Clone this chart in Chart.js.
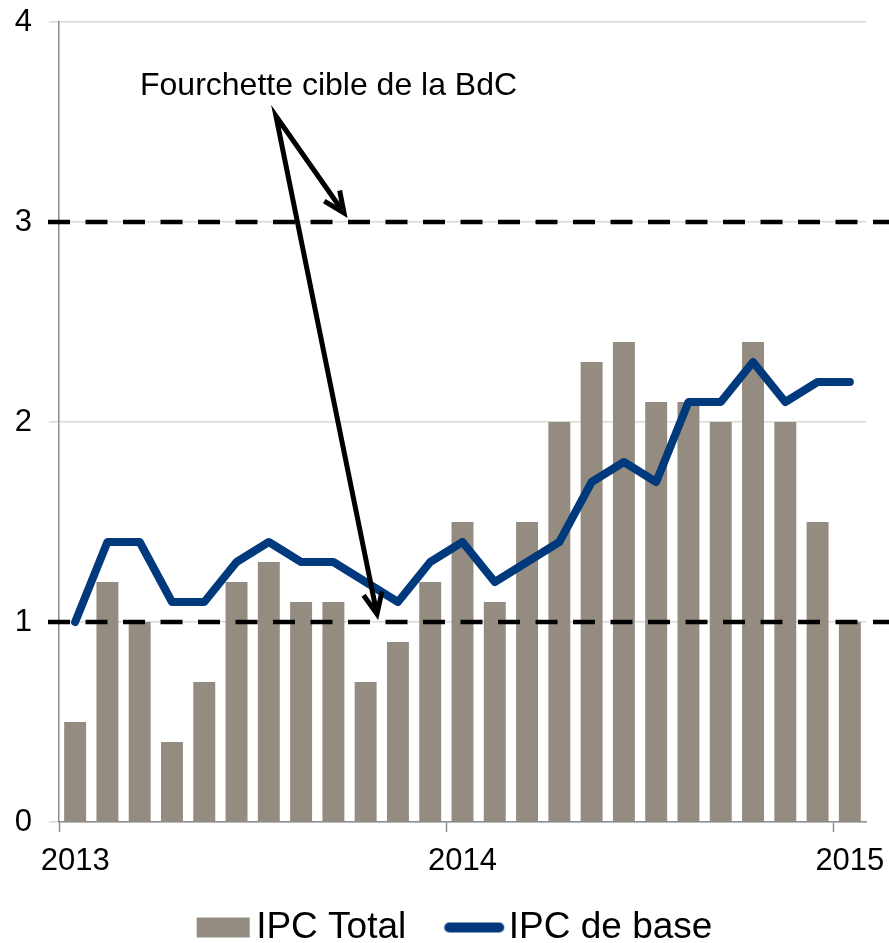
<!DOCTYPE html>
<html>
<head>
<meta charset="utf-8">
<script src="https://cdn.jsdelivr.net/npm/chart.js@4.4.1/dist/chart.umd.min.js"></script>
<style>
  html, body { margin: 0; padding: 0; background: #ffffff; }
</style>
</head>
<body>
<canvas id="chart" width="889" height="943"></canvas>
<script>
// --- Données ---
const mois = ['2013-01', '2013-02', '2013-03', '2013-04', '2013-05', '2013-06', '2013-07', '2013-08', '2013-09', '2013-10', '2013-11', '2013-12',
              '2014-01', '2014-02', '2014-03', '2014-04', '2014-05', '2014-06', '2014-07', '2014-08', '2014-09', '2014-10', '2014-11', '2014-12',
              '2015-01'];
const ipcTotal = [0.5, 1.2, 1.0, 0.4, 0.7, 1.2, 1.3, 1.1, 1.1, 0.7, 0.9, 1.2, 1.5, 1.1, 1.5, 2.0, 2.3, 2.4, 2.1, 2.1, 2.0, 2.4, 2.0, 1.5, 1.0];
const ipcBase  = [1.0, 1.4, 1.4, 1.1, 1.1, 1.3, 1.4, 1.3, 1.3, 1.2, 1.1, 1.3, 1.4, 1.2, 1.3, 1.4, 1.7, 1.8, 1.7, 2.1, 2.1, 2.3, 2.1, 2.2, 2.2];
const yTicks = [0, 1, 2, 3, 4];
const cible = [1, 3];
const noteTexte = 'Fourchette cible de la BdC';

const police = '"Liberation Sans", Arial, sans-serif';
const GRIS_BARRE = '#958C81';
const BLEU = '#003A7D';
Chart.defaults.font.family = police;

const estJanvier = i => i !== undefined && mois[i] && mois[i].endsWith('-01');

// --- Icônes de légende (décalées pour coller au texte) ---
function icone(dessin) {
    const c = document.createElement('canvas');
    c.width = 116; c.height = 24;
    dessin(c.getContext('2d'));
    return c;
}
const icones = [
    icone(g => { g.fillStyle = GRIS_BARRE; g.fillRect(59, 2, 53, 20); }),
    icone(g => {
        g.strokeStyle = BLEU; g.lineWidth = 10; g.lineCap = 'round';
        g.beginPath(); g.moveTo(59, 12); g.lineTo(109, 12); g.stroke();
    })
];

function fleche(ctx, pts) {
    // pts: départ commun puis les deux pointes
    const [d, p1, p2] = pts;
    ctx.beginPath();
    ctx.moveTo(p1[0], p1[1]); ctx.lineTo(d[0], d[1]); ctx.lineTo(p2[0], p2[1]);
    ctx.stroke();
    [p1, p2].forEach(p => {
        const a = Math.atan2(p[1] - d[1], p[0] - d[0]), L = 23, s = 0.42;
        ctx.beginPath();
        ctx.moveTo(p[0] - L * Math.cos(a - s), p[1] - L * Math.sin(a - s));
        ctx.lineTo(p[0], p[1]);
        ctx.lineTo(p[0] - L * Math.cos(a + s), p[1] - L * Math.sin(a + s));
        ctx.stroke();
    });
}

// --- Lignes cibles, flèches et texte ---
const annotations = {
    id: 'annotations',
    afterDatasetDraw(chart, args) {
        if (args.index !== 0) return;
        const { ctx, scales: { y }, chartArea } = chart;
        ctx.save();
        ctx.strokeStyle = '#000';
        ctx.lineWidth = 4.5;
        ctx.setLineDash([22, 15.5]);
        cible.forEach(v => {
            const py = Math.round(y.getPixelForValue(v));
            ctx.beginPath();
            ctx.moveTo(chartArea.left - 11, py);
            ctx.lineTo(chart.width, py);
            ctx.stroke();
        });
        ctx.restore();
    },
    afterDatasetsDraw(chart) {
        const { ctx, scales: { x, y } } = chart;
        const px = (i, v) => [x.getPixelForValue(i), y.getPixelForValue(v)];
        ctx.save();
        ctx.strokeStyle = '#000';
        ctx.lineWidth = 5;
        ctx.lineJoin = 'miter';
        fleche(ctx, [px(6.22, 3.53), px(8.33, 3.045), px(9.35, 1.04)]);
        ctx.fillStyle = '#000';
        ctx.font = '32px ' + police;
        ctx.textAlign = 'left';
        ctx.textBaseline = 'middle';
        const [tx, ty] = px(2.01, 3.68);
        ctx.fillText(noteTexte, tx, ty);
        ctx.restore();
    }
};

new Chart(document.getElementById('chart'), {
    type: 'bar',
    data: {
        labels: mois,
        datasets: [{
            label: 'IPC Total',
            data: ipcTotal,
            backgroundColor: GRIS_BARRE,
            borderWidth: 0,
            categoryPercentage: 0.68,
            barPercentage: 1,
            order: 1
        }, {
            type: 'line',
            label: 'IPC de base',
            data: ipcBase,
            borderColor: BLEU,
            backgroundColor: BLEU,
            borderWidth: 8,
            borderCapStyle: 'round',
            borderJoinStyle: 'round',
            pointRadius: 0,
            tension: 0,
            order: 0
        }]
    },
    options: {
        responsive: false,
        animation: false,
        layout: { padding: { top: 22, right: 23, left: 0, bottom: -13 } },
        scales: {
            x: {
                offset: true,
                grid: {
                    offset: true,
                    drawOnChartArea: false,
                    tickLength: 10,
                    tickWidth: 1.5,
                    tickColor: c => estJanvier(c.index) ? '#8c8c8c' : 'rgba(0,0,0,0)'
                },
                border: { color: '#8c8c8c', width: 1.5 },
                ticks: {
                    autoSkip: false,
                    maxRotation: 0,
                    padding: 11,
                    color: '#000',
                    font: { size: 31 },
                    callback: (v, i) => estJanvier(i) ? mois[i].slice(0, 4) : ''
                },
                afterFit: s => { s.paddingLeft = 0; s.paddingRight = 0; s.height = 87; }
            },
            y: {
                min: 0,
                max: 4,
                afterBuildTicks: s => { s.ticks = yTicks.map(v => ({ value: v })); },
                ticks: { padding: 17, color: '#000', font: { size: 31 } },
                grid: { color: '#d9d9d9', lineWidth: 1.5, tickLength: 10 },
                border: { color: '#8c8c8c', width: 1.5 },
                afterFit: s => { s.width = 59; s.paddingTop = 0; s.paddingBottom = 0; }
            }
        },
        plugins: {
            tooltip: { enabled: false },
            legend: {
                position: 'bottom',
                labels: {
                    usePointStyle: true,
                    pointStyleWidth: 84,
                    boxHeight: 20,
                    padding: 0,
                    color: '#000',
                    font: { size: 37 },
                    sort: (a, b) => a.datasetIndex - b.datasetIndex,
                    generateLabels: chart => Chart.defaults.plugins.legend.labels.generateLabels(chart)
                        .map(it => ({ ...it, pointStyle: icones[it.datasetIndex] }))
                }
            }
        }
    },
    plugins: [annotations]
});
</script>
</body>
</html>
